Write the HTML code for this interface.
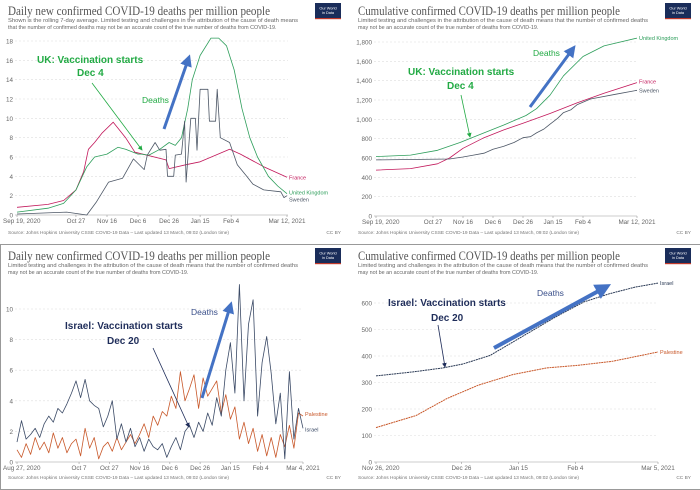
<!DOCTYPE html>
<html><head><meta charset="utf-8">
<style>
html,body{margin:0;padding:0;background:#fff;width:700px;height:490px;overflow:hidden}
svg{display:block}
.t{font-family:"Liberation Serif",serif;fill:#555}
.s{font-family:"Liberation Sans",sans-serif}
</style></head>
<body>
<svg id="svg" width="700" height="490" viewBox="0 0 700 490" xmlns="http://www.w3.org/2000/svg">
<defs>
<marker id="ag" markerWidth="6" markerHeight="6" refX="5" refY="3" orient="auto"><path d="M0,0 L6,3 L0,6 z" fill="#22aa44"/></marker>
<marker id="an" markerWidth="6" markerHeight="6" refX="5" refY="3" orient="auto"><path d="M0,0 L6,3 L0,6 z" fill="#1f2d5a"/></marker>
<marker id="ab" markerWidth="4" markerHeight="4" refX="2" refY="2" orient="auto"><path d="M0,0 L4,2 L0,4 z" fill="#4472c4"/></marker>
</defs>
<line x1="0" y1="244.5" x2="700" y2="244.5" stroke="#999" stroke-width="1"/>
<line x1="0.5" y1="245" x2="0.5" y2="490" stroke="#999" stroke-width="1"/>
<line x1="0" y1="489.5" x2="700" y2="489.5" stroke="#999" stroke-width="1"/>
</svg>
<script>
// ---------- Chart 1: daily UK/France/Sweden ----------
const c1Ticks = [0,2,4,6,8,10,12,14,16,18];
const c1XLabels = ["Sep 19, 2020","Oct 27","Nov 16","Dec 6","Dec 26","Jan 15","Feb 4","Mar 12, 2021"];
const c1XDays = [0,38,58,78,98,118,138,174];
const c1UkDays = [0,20,30,38,45,50,58,65,70,78,80,85,92,98,102,106,110,113,118,125,130,135,140,145,150,155,162,168,174];
const c1UkVals = [0.3,0.7,1.2,2.6,5,6,6.3,7,6.8,6.3,6.3,6.2,6.8,7.5,7.2,8,11,14,16.5,18.3,18.3,17.5,15,11,8,6,4,3,2.2];
const c1FrDays = [0,20,30,38,43,46,50,55,62,70,76,96,98,109,118,137,144,159,174];
const c1FrVals = [0.8,1.1,1.5,2.6,4.5,6.8,7.5,8.5,9.6,8,6.5,5.7,4.8,5.2,5.5,6.8,6.3,5,3.9];
const c1SeDays = [0,32,45,51,59,68,75,82,84,89,92,96,97,101,102,106,108,109,112,115,116,118,123,124,128,129,131,137,142,148,152,159,170,172,174];
const c1SeVals = [0.1,0.3,0,1.3,3.4,3.8,5.8,4.7,6.2,7.5,6.7,6.8,4,4,6.2,6.3,9.7,3.4,10,10,6.7,13,13,9.7,9.7,13,8,7.5,5.2,4,3.2,2.6,2.4,1.8,2];
// ---------- Chart 2: cumulative UK/France/Sweden ----------
const c2Ticks = [0,200,400,600,800,1000,1200,1400,1600,1800];
const c2TickLabels = ["0","200","400","600","800","1,000","1,200","1,400","1,600","1,800"];
const c2UkDays = [0,23,41,56,72,85,100,107,116,125,138,152,174];
const c2UkVals = [615,630,680,760,860,940,1040,1110,1250,1450,1650,1760,1840];
const c2FrDays = [0,23,41,49,58,72,85,98,116,134,152,174];
const c2FrVals = [475,490,540,600,700,810,890,960,1060,1170,1270,1380];
const c2SeDays = [0,49,58,65,72,78,85,92,98,103,107,112,116,121,125,130,134,143,160,174];
const c2SeVals = [580,590,610,630,650,690,720,760,810,820,860,900,950,1010,1070,1100,1150,1210,1260,1300];
// ---------- Chart 3: daily Israel/Palestine ----------
const c3Ticks = [0,2,4,6,8,10];
const c3XLabels = ["Aug 27, 2020","Oct 7","Oct 27","Nov 16","Dec 6","Dec 26","Jan 15","Feb 4","Mar 4, 2021"];
const c3XDays = [0,41,61,81,101,121,141,161,189];
const c3Step = 3;
const c3Israel = [1.3,2.7,1.5,1.8,2.2,1.6,2.5,3.0,2.6,3.5,3.2,3.8,4.5,5.3,4.2,5.4,4.0,3.7,3.5,2.3,3.0,4.0,1.5,2.5,1.3,2.2,1.0,1.6,0.7,1.5,1.0,0.8,1.2,0.3,1.0,1.6,0.8,2.0,2.4,1.6,2.6,2.0,3.2,2.4,4.2,3.0,6.0,7.8,4.5,11.6,4.0,9.0,10.6,3.0,6.5,8.2,5.8,2.5,4.5,0.2,5.9,1.5,3.5,2.2];
const c3Palestine = [0.8,0.3,1.2,0.5,1.6,0.8,1.3,0.6,1.9,0.9,1.6,0.6,1.2,1.5,0.4,2.2,0.9,1.6,0.2,1.0,1.3,0.7,1.6,0.8,1.3,1.8,1.2,1.8,2.5,1.6,3.0,2.4,3.3,3.0,4.3,3.5,5.9,4.0,4.8,5.7,3.5,5.5,4.3,4.8,5.3,3.2,4.4,2.8,3.6,1.5,2.6,1.2,2.2,0.7,1.8,0.4,1.6,0.3,1.8,1.0,2.4,0.9,3.2,3.0];
// ---------- Chart 4: cumulative Israel/Palestine ----------
const c4Ticks = [0,100,200,300,400,500,600];
const c4XLabels = ["Nov 26, 2020","Dec 26","Jan 15","Feb 4","Mar 5, 2021"];
const c4XDays = [0,30,50,70,99];
const c4IsDays = [0,13,23.6,30.6,40,47,54,63,73,82,91,99];
const c4IsVals = [325,340,355,370,402,446,490,547,604,635,660,675];
const c4PaDays = [0,14,25,36,48,60,71,83,99];
const c4PaVals = [130,175,240,290,330,355,365,380,415];

const NS="http://www.w3.org/2000/svg";
const svg=document.getElementById('svg');
function mk(tag,attrs,parent){const e=document.createElementNS(NS,tag);for(const k in attrs)e.setAttribute(k,attrs[k]);(parent||svg).appendChild(e);return e;}
function txt(x,y,s,attrs,parent){const e=mk('text',Object.assign({x:x,y:y},attrs),parent);e.textContent=s;return e;}

function panel(ox,oy,name,title,sub1,sub2){
  const g=mk('g',{});
  
  
  const t=txt(ox+8,oy+15,title,{'class':'t','font-size':'12.5',textLength:'262',lengthAdjust:'spacingAndGlyphs'},g);
  
  
  const s1=txt(ox+8,oy+22,sub1,{'class':'s','font-size':'5.4',fill:'#666',textLength:'290',lengthAdjust:'spacingAndGlyphs'},g);
  
  
  const s2=txt(ox+8,oy+29,sub2,{'class':'s','font-size':'5.4',fill:'#666'},g);
  
  
  const lg=mk('g',{},g);
  
  
  mk('rect',{x:ox+315,y:oy+3,width:26,height:16,fill:'#1a2d5a'},lg);
  mk('rect',{x:ox+315,y:oy+18,width:26,height:1.2,fill:'#c0392b'},lg);
  txt(ox+328,oy+9.5,'Our World',{'class':'s','font-size':'3.8',fill:'#fff','text-anchor':'middle'},lg);
  txt(ox+328,oy+14,'in Data',{'class':'s','font-size':'3.8',fill:'#fff','text-anchor':'middle'},lg);
  const src=txt(ox+8,oy+234,'Source: Johns Hopkins University CSSE COVID-19 Data – Last updated 13 March, 09:02 (London time)',{'class':'s','font-size':'4.8',fill:'#777'},g);
  
  
  const cc=txt(ox+341,oy+234,'CC BY',{'class':'s','font-size':'4.8',fill:'#777','text-anchor':'end'},g);
  
  
  return g;
}

function axes(cfg){
  const g=mk('g',{});
  
  
  cfg.yTicks.forEach((v,i)=>{
    const y=cfg.sy(v);
    mk('line',{x1:cfg.x0-2,x2:cfg.x1,y1:y,y2:y,stroke:v===0?'#999':'#ddd','stroke-width':0.6,'stroke-dasharray':v===0?'':'2 2'},g);
    const lbl=txt(cfg.x0-4,y+2.5,cfg.yLabels?cfg.yLabels[i]:String(v),{'class':'s','font-size':'6.3',fill:'#666','text-anchor':'end'},g);
    
    
  });
  cfg.xDays.forEach((d,i)=>{
    const x=cfg.sx(d);
    const attrs={'class':'s','font-size':'6.3',fill:'#666','text-anchor':'middle'};
    let lx=x;
    if(i===0){attrs['text-anchor']='start';lx=cfg.x0-14;}
    const lbl=txt(lx,cfg.sy(0)+8,cfg.xLabels[i],attrs,g);
    
    
    mk('line',{x1:x,x2:x,y1:cfg.sy(0),y2:cfg.sy(0)+2,stroke:'#999','stroke-width':0.6},g);
  });
}

function series(cfg,days,vals,color,name,label,labelDy,dotted){
  const pts=days.map((d,i)=>cfg.sx(d).toFixed(1)+','+cfg.sy(vals[i]).toFixed(1)).join(' ');
  const p=mk('polyline',{points:pts,fill:'none',stroke:color,'stroke-width':dotted?1:0.8,'stroke-linejoin':'round'});
  if(dotted) p.setAttribute('stroke-dasharray','2 0.6');
  
  
  const last=days.length-1;
  const l=txt(cfg.sx(days[last])+2,cfg.sy(vals[last])+2+(labelDy||0),label,{'class':'s','font-size':'5.5',fill:color});
  
  
}

function annot(x,y,s,size,color,name,weight){
  const e=txt(x,y,s,{'class':'s','font-size':size,fill:color,'font-weight':weight||'bold'});
  
  
}
function arrow(x1,y1,x2,y2,color,w,marker,name){
  const l=mk('line',{x1:x1,y1:y1,x2:x2,y2:y2,stroke:color,'stroke-width':w,'marker-end':'url(#'+marker+')'});
  
  
}
function lin(d0,d1,r0,r1){return v=>r0+(v-d0)*(r1-r0)/(d1-d0);}

// Panel 1
panel(0,0,'daily-deaths-uk-panel','Daily new confirmed COVID-19 deaths per million people',
 'Shown is the rolling 7-day average. Limited testing and challenges in the attribution of the cause of death means',
 'that the number of confirmed deaths may not be an accurate count of the true number of deaths from COVID-19.');
const cfg1={name:'chart1',x0:17,x1:288,sx:lin(0,174,17,287),sy:lin(0,18,215,41),yTicks:c1Ticks,xDays:c1XDays,xLabels:c1XLabels};
axes(cfg1);
series(cfg1,c1FrDays,c1FrVals,'#c2185b','line-france','France',0);
series(cfg1,c1UkDays,c1UkVals,'#2e9e5b','line-uk','United Kingdom',-1);
series(cfg1,c1SeDays,c1SeVals,'#4d5766','line-sweden','Sweden',4);
annot(37,63,'UK: Vaccination starts','10','#22aa44','annotation-uk-vaccination');
annot(77,76,'Dec 4','10','#22aa44','annotation-dec4');
arrow(92,83,142,150,'#22aa44',0.8,'ag','annotation-arrow-uk');
annot(142,103,'Deaths','8.5','#22aa44','annotation-deaths','normal');
arrow(164,129,188,60,'#4472c4',3,'ab','deaths-trend-arrow');

// Panel 2
panel(350,0,'cumulative-deaths-uk-panel','Cumulative confirmed COVID-19 deaths per million people',
 'Limited testing and challenges in the attribution of the cause of death means that the number of confirmed deaths',
 'may not be an accurate count of the true number of deaths from COVID-19.');
const cfg2={name:'chart2',x0:376,x1:637,sx:lin(0,174,376,637),sy:lin(0,1800,216,42),yTicks:c2Ticks,yLabels:c2TickLabels,xDays:c1XDays,xLabels:c1XLabels};
axes(cfg2);
series(cfg2,c2UkDays,c2UkVals,'#2e9e5b','cum-line-uk','United Kingdom',0);
series(cfg2,c2FrDays,c2FrVals,'#c2185b','cum-line-france','France',-1);
series(cfg2,c2SeDays,c2SeVals,'#4d5766','cum-line-sweden','Sweden',0);
annot(408,75,'UK: Vaccination starts','10','#22aa44','annotation-uk-vaccination-2');
annot(447,89,'Dec 4','10','#22aa44','annotation-dec4-2');
arrow(461,95,470,137,'#22aa44',0.8,'ag','annotation-arrow-uk-2');
annot(533,56,'Deaths','8.5','#22aa44','annotation-deaths-2','normal');
arrow(530,107,572,50,'#4472c4',3,'ab','deaths-trend-arrow-2');

// Panel 3
panel(0,245,'daily-deaths-israel-panel','Daily new confirmed COVID-19 deaths per million people',
 'Limited testing and challenges in the attribution of the cause of death means that the number of confirmed deaths',
 'may not be an accurate count of the true number of deaths from COVID-19.');
const cfg3={name:'chart3',x0:17,x1:303,sx:lin(0,189,17,303),sy:lin(0,10,462,309),yTicks:c3Ticks,xDays:c3XDays,xLabels:c3XLabels};
axes(cfg3);
const c3Days=c3Israel.map((v,i)=>i*c3Step);
series(cfg3,c3Days,c3Palestine,'#c8582a','line-palestine','Palestine',-2);
series(cfg3,c3Days,c3Israel,'#3b4a66','line-israel','Israel',1);
annot(65,329,'Israel: Vaccination starts','10','#1f2d5a','annotation-israel-vaccination');
annot(107,344,'Dec 20','10','#1f2d5a','annotation-dec20');
arrow(153,348,189,427,'#1f2d5a',0.8,'an','annotation-arrow-israel');
annot(191,315,'Deaths','8.5','#3a4f8a','annotation-deaths-3','normal');
arrow(202,398,230,307,'#4472c4',3,'ab','deaths-trend-arrow-3');

// Panel 4
panel(350,245,'cumulative-deaths-israel-panel','Cumulative confirmed COVID-19 deaths per million people',
 'Limited testing and challenges in the attribution of the cause of death means that the number of confirmed deaths',
 'may not be an accurate count of the true number of deaths from COVID-19.');
const cfg4={name:'chart4',x0:376,x1:658,sx:lin(0,99,376,658),sy:lin(0,600,462,303),yTicks:c4Ticks,xDays:c4XDays,xLabels:c4XLabels};
axes(cfg4);
series(cfg4,c4IsDays,c4IsVals,'#2b3a55','cum-line-israel','Israel',0,true);
series(cfg4,c4PaDays,c4PaVals,'#c8582a','cum-line-palestine','Palestine',0,true);
annot(388,306,'Israel: Vaccination starts','10','#1f2d5a','annotation-israel-vaccination-2');
annot(431,321,'Dec 20','10','#1f2d5a','annotation-dec20-2');
arrow(438,325,445,367,'#1f2d5a',0.8,'an','annotation-arrow-israel-2');
annot(537,296,'Deaths','8.5','#3a4f8a','annotation-deaths-4','normal');
arrow(494,348,604,288,'#4472c4',4,'ab','deaths-trend-arrow-4');
</script>
</body></html>
